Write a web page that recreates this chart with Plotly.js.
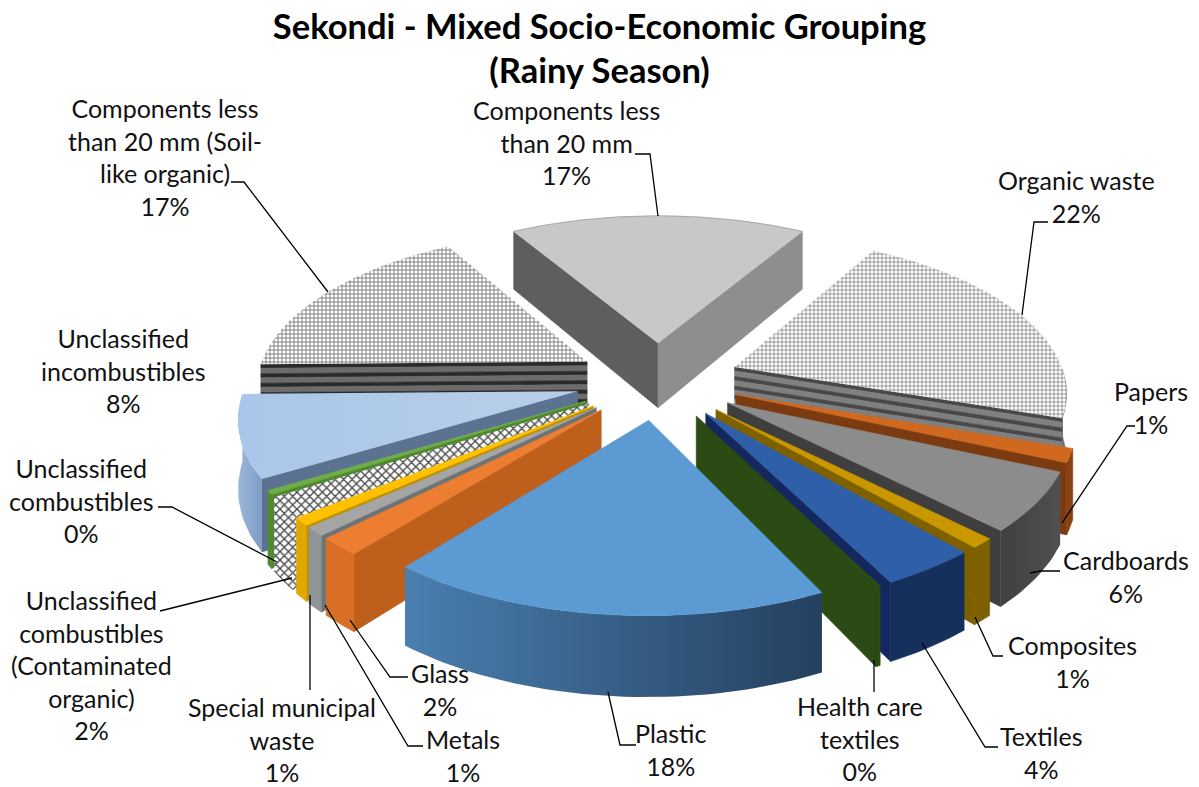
<!DOCTYPE html>
<html>
<head>
<meta charset="utf-8">
<script src="https://cdn.plot.ly/plotly-3.0.1.min.js"></script>
<style>html,body{margin:0;padding:0;background:#fff}#chart{width:1199px;height:787px}</style>
</head>
<body>
<div id="chart"></div>
<script>
// Waste composition shares, clockwise from the top slice's leading edge.
const categories = [
  "Organic waste", "Papers", "Cardboards", "Composites", "Textiles",
  "Health care textiles", "Plastic", "Glass", "Metals", "Special municipal waste",
  "Unclassified combustibles (Contaminated organic)", "Unclassified combustibles",
  "Unclassified incombustibles", "Components less than 20 mm (Soil-like organic)",
  "Components less than 20 mm"
];
const shares = [22.0, 1.4, 6.0, 1.0, 4.0, 0.2, 18.2, 1.8, 0.9, 0.8, 1.8, 0.4, 8.4, 17.0, 17.0];
const labelLines = [
  ["Organic waste"], ["Papers"], ["Cardboards"], ["Composites"], ["Textiles"],
  ["Health care", "textiles"], ["Plastic"], ["Glass"], ["Metals"], ["Special municipal", "waste"],
  ["Unclassified", "combustibles", "(Contaminated", "organic)"], ["Unclassified", "combustibles"],
  ["Unclassified", "incombustibles"], ["Components less", "than 20 mm (Soil-", "like organic)"],
  ["Components less", "than 20 mm"]
];

// Per-slice face colours: top, radial wall, rim.
const faceStyles = [
  {top: "hatchLight", radial: "stripesLight", rim: "#6e6e6e"},
  {top: "#d0691f", radial: "#7c3a10", rim: "#8a4212"},
  {top: "#8c8c8c", radial: "#3f3f3f", rim: ["#404040", "#505050"]},
  {top: "#c99700", radial: "#7f6000", rim: "#7f6000"},
  {top: "#2f5fa8", radial: "#14275f", rim: "#16305c"},
  {top: "#2c4c14", radial: "#2b4a14", rim: "#2b4a14"},
  {top: "#5b9ad3", radial: "#3a6a98", rim: ["#4a7fb0", "#24405f"]},
  {top: "#ed7d31", radial: "#bf5f1c", rim: "#d96f24"},
  {top: "#a5a5a5", radial: "#6c7478", rim: "#8f9496"},
  {top: "#ffc000", radial: "#bf9000", rim: "#e0a800"},
  {top: "hatchDark", radial: "hatchDark", rim: "hatchDark"},
  {top: "#70ad47", radial: "#4f8a30", rim: "#4f8a30"},
  {top: ["#a9c6ea", "#b9cfe8"], radial: "#5b7391", rim: ["#9db8da", "#7d9cc6"]},
  {top: "hatchGrey", radial: "stripesDark", rim: "#555555"},
  {top: "#c8c8c8", radial: null, rim: "#a8a8a8", edge: "#aaaaaa"}
];
const stripeColours = {
  stripesLight: ["#484848", "#808080"],
  stripesDark: ["#2a2a2a", "#6c6c6c"]
};

// Label block centres and leader-line routes on the plot's 1199 x 787 axes.
const labelCentres = [
  [1076, 196], [1151, 407], [1126, 576], [1072, 661], [1041, 752], [860, 738.5], [670, 749],
  [440, 689], [463, 755], [282, 739], [91, 665], [81, 500], [123, 370], [165, 157], [566, 142]
];
const leaders = [
  [[1048, 222], [1034, 222], [1022, 315]],
  [[1135, 426], [1127, 426], [1062, 523]],
  [[1060, 571], [1040, 571], [1030, 573]],
  [[1003, 656], [993, 656], [975, 617]],
  [[998, 747], [985, 747], [922, 643]],
  [[874, 692], [874, 660]],
  [[636, 745], [620, 745], [608, 692]],
  [[408, 677], [390, 677], [350, 620]],
  [[423, 746], [408, 746], [325, 605]],
  [[310, 690], [310, 595]],
  [[160, 611], [172, 608], [292, 578]],
  [[158, 507], [172, 507], [277, 562]],
  [],
  [[231, 182], [244, 182], [328, 292]],
  [[635, 154], [650, 154], [658, 216]]
];

// Perspective camera for the exploded disc.
const cam = {cx: 658, cy: 380.4, sx: 331, sy: 155, persp: 0.142, depth: 67, explode: 0.25};
const project = (x, y, z) => {
  const w = 1 + cam.persp * y;
  return [cam.cx + cam.sx * x / w, cam.cy + (-cam.sy * y + cam.depth * z) / w];
};
const rad = d => d * Math.PI / 180;

const total = shares.reduce((a, b) => a + b, 0);
const startAngle = 360 * shares[shares.length - 1] / total / -2 - 360 * (total - shares[shares.length - 1]) / total;

const patterns = {
  hatchLight: {shape: "+", fgcolor: "#7c7c7c", bgcolor: "#ffffff", size: 4, solidity: 0.35},
  hatchGrey: {shape: "+", fgcolor: "#6e6e6e", bgcolor: "#ffffff", size: 4, solidity: 0.38},
  hatchDark: {shape: "x", fgcolor: "#4a4a4a", bgcolor: "#ffffff", size: 6, solidity: 0.4}
};

function face(points, paint) {
  const xs = points.map(p => p[0]).concat(points[0][0]);
  const ys = points.map(p => p[1]).concat(points[0][1]);
  const t = {type: "scatter", x: xs, y: ys, mode: "lines", fill: "toself", hoverinfo: "skip", showlegend: false};
  if (Array.isArray(paint)) {
    t.line = {width: 0};
    t.fillgradient = {type: "horizontal", colorscale: [[0, paint[0]], [1, paint[1]]]};
  } else if (patterns[paint]) {
    t.line = {width: 0};
    t.fillcolor = "#ffffff";
    t.fillpattern = patterns[paint];
  } else {
    t.line = {width: 0.6, color: paint};
    t.fillcolor = paint;
  }
  return t;
}

// Banded wall for the hatched slices: a thin dark band, then a wider grey one.
function stripedWall(a, b, colours) {
  const periods = 7, out = [];
  const quad = (z0, z1, c) => face([project(a[0], a[1], z0), project(b[0], b[1], z0),
    project(b[0], b[1], z1), project(a[0], a[1], z1)], c);
  for (let i = 0; i < periods; i++) {
    const z0 = i / periods, zm = (i + 0.42) / periods, z1 = (i + 1) / periods;
    out.push(quad(z0, zm, colours[0]), quad(zm, z1, colours[1]));
  }
  return out;
}

let acc = startAngle;
const slices = shares.map((v, i) => {
  const a0 = acc, a1 = acc + 360 * v / total;
  acc = a1;
  return {i, a0, a1, mid: (a0 + a1) / 2};
});

const traces = [];
slices.slice().sort((p, q) => Math.cos(rad(q.mid)) - Math.cos(rad(p.mid))).forEach(s => {
  const st = faceStyles[s.i];
  const ox = cam.explode * Math.sin(rad(s.mid)), oy = cam.explode * Math.cos(rad(s.mid));
  const rimPt = t => [ox + Math.sin(rad(t)), oy + Math.cos(rad(t))];
  const walls = (t, side) => {
    const p = rimPt(t);
    if (stripeColours[st.radial]) return stripedWall([ox, oy], p, stripeColours[st.radial]);
    let colour = st.radial;
    if (colour === null) colour = side === 0 ? "#5e5e5e" : "#8e8e8e";
    return [face([project(ox, oy, 0), project(p[0], p[1], 0), project(p[0], p[1], 1), project(ox, oy, 1)], colour)];
  };
  // A radial wall shows only when its outward normal points towards the camera.
  if (Math.cos(rad(s.a0 - 90)) < 0) traces.push(...walls(s.a0, 0));
  if (Math.cos(rad(s.a1 + 90)) < 0) traces.push(...walls(s.a1, 1));
  const norm = d => ((d % 360) + 360) % 360;
  const arc = [];
  const n = Math.max(2, Math.ceil((s.a1 - s.a0) / 1.5));
  for (let k = 0; k <= n; k++) arc.push(s.a0 + (s.a1 - s.a0) * k / n);
  const seen = arc.filter(t => norm(t) >= 90 && norm(t) <= 270);
  if (seen.length > 1) {
    const up = seen.map(t => { const p = rimPt(t); return project(p[0], p[1], 0); });
    const dn = seen.slice().reverse().map(t => { const p = rimPt(t); return project(p[0], p[1], 1); });
    traces.push(face(up.concat(dn), st.rim));
  }
  const rimTop = arc.map(t => { const p = rimPt(t); return project(p[0], p[1], 0); });
  traces.push(face([project(ox, oy, 0)].concat(rimTop), st.top));
  if (st.edge) {
    traces.push({type: "scatter", mode: "lines", x: rimTop.map(p => p[0]), y: rimTop.map(p => p[1]),
      line: {color: st.edge, width: 1}, hoverinfo: "skip", showlegend: false});
  }
});

// Leader lines sit above the slices.
leaders.forEach(route => {
  if (!route.length) return;
  traces.push({type: "scatter", mode: "lines", x: route.map(p => p[0]), y: route.map(p => p[1]),
    line: {color: "#000000", width: 1.3}, hoverinfo: "skip", showlegend: false});
});

const annotations = categories.map((c, i) => ({
  xref: "x", yref: "y", x: labelCentres[i][0], y: labelCentres[i][1],
  xanchor: "center", yanchor: "middle", showarrow: false, align: "center",
  text: labelLines[i].concat(Math.round(100 * shares[i] / total) + "%").join("<br>"),
  font: {family: "Lato, sans-serif", size: 25, color: "#111111"}
}));

const layout = {
  width: 1199, height: 787,
  margin: {l: 0, r: 0, t: 0, b: 0},
  paper_bgcolor: "#ffffff", plot_bgcolor: "#ffffff",
  title: {text: "<b>Sekondi - Mixed Socio-Economic Grouping<br>(Rainy Season)</b>",
    x: 0.5, xanchor: "center", xref: "paper", y: 0.951, yanchor: "top", yref: "paper",
    font: {family: "Lato, sans-serif", size: 34.5, color: "#000000"}},
  xaxis: {range: [0, 1199], visible: false, fixedrange: true},
  yaxis: {range: [787, 0], visible: false, fixedrange: true},
  annotations
};
Plotly.newPlot("chart", traces, layout, {displayModeBar: false, staticPlot: true});
</script>
</body>
</html>
